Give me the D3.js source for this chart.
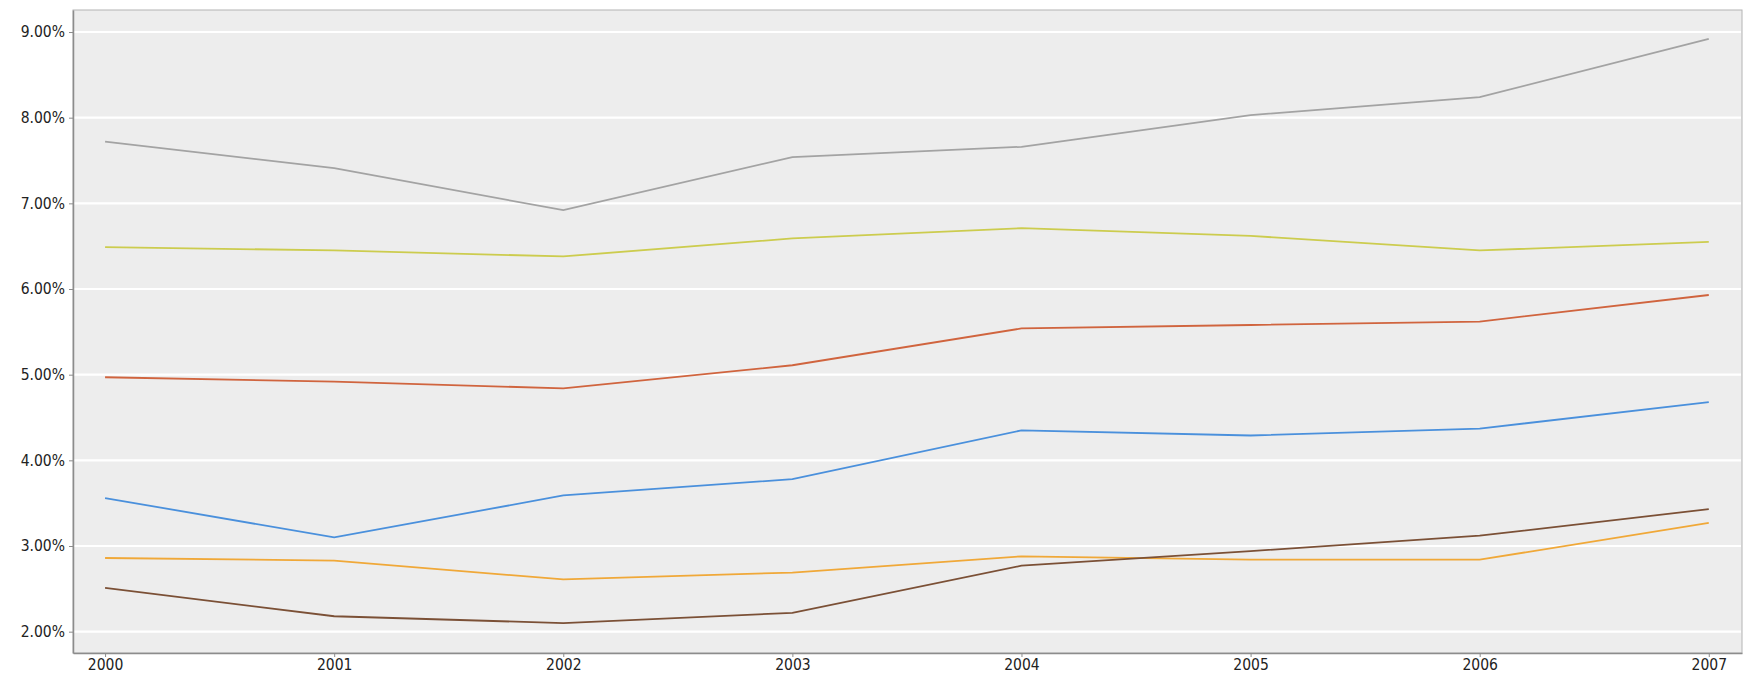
<!DOCTYPE html>
<html>
<head>
<meta charset="utf-8">
<script src="https://cdn.jsdelivr.net/npm/d3@7"></script>
<style>
  html, body { margin: 0; padding: 0; background: #fff; overflow: hidden; }
  svg { display: block; }
  text { font-family: "DejaVu Sans Condensed", "DejaVu Sans", sans-serif; }
</style>
</head>
<body>
<svg id="canvas"></svg>
<script>
const years = [2000, 2001, 2002, 2003, 2004, 2005, 2006, 2007];
const yTicks = [2, 3, 4, 5, 6, 7, 8, 9];

const greySeries   = [7.72, 7.41, 6.92, 7.54, 7.66, 8.03, 8.24, 8.92];
const yellowSeries = [6.49, 6.45, 6.38, 6.59, 6.71, 6.62, 6.45, 6.55];
const redSeries    = [4.97, 4.92, 4.84, 5.11, 5.54, 5.58, 5.62, 5.93];
const blueSeries   = [3.56, 3.10, 3.59, 3.78, 4.35, 4.29, 4.37, 4.68];
const orangeSeries = [2.86, 2.83, 2.61, 2.69, 2.88, 2.84, 2.84, 3.27];
const brownSeries  = [2.51, 2.18, 2.10, 2.22, 2.77, 2.94, 3.12, 3.43];

const series = [
    {name: "grey", values: greySeries, color: "#a3a3a3"},
    {name: "yellow", values: yellowSeries, color: "#cccc4e"},
    {name: "red", values: redSeries, color: "#d0643e"},
    {name: "blue", values: blueSeries, color: "#4a90dc"},
    {name: "orange", values: orangeSeries, color: "#f0a838"},
    {name: "brown", values: brownSeries, color: "#7b5036"}
];

const width = 1745;
const height = 681;
const margin = {top: 10, right: 3, bottom: 28, left: 73};
const innerWidth = width - margin.left - margin.right;
const innerHeight = height - margin.top - margin.bottom;

const svg = d3.select("#canvas").attr("width", width).attr("height", height);
const mainGroup = svg.append("g").attr("transform", `translate(${margin.left}, ${margin.top})`);

const xScale = d3.scaleLinear().domain([1999.86, 2007.145]).range([0, innerWidth]);
const yScale = d3.scaleLinear().domain([1.751, 9.257]).range([innerHeight, 0]);

// plot background
mainGroup.append("rect")
    .attr("width", innerWidth)
    .attr("height", innerHeight)
    .attr("fill", "#ededed")
    .attr("stroke", "#b4b4b4")
    .attr("stroke-width", 1);

// gridlines
mainGroup.append("g").selectAll("line")
    .data(yTicks)
    .join("line")
    .attr("x1", 1)
    .attr("x2", innerWidth - 1)
    .attr("y1", d => yScale(d))
    .attr("y2", d => yScale(d))
    .attr("stroke", "#ffffff")
    .attr("stroke-width", 2.2);

// lines
const line = d3.line()
    .x((d, i) => xScale(years[i]))
    .y(d => yScale(d));

mainGroup.append("g").selectAll("path")
    .data(series)
    .join("path")
    .attr("d", d => line(d.values))
    .attr("fill", "none")
    .attr("stroke", d => d.color)
    .attr("stroke-width", 1.8);

// axes
const yAxis = d3.axisLeft(yScale)
    .tickValues(yTicks)
    .tickSizeInner(4)
    .tickSizeOuter(0)
    .tickPadding(4)
    .tickFormat(d => d3.format(".2f")(d) + "%");

const xAxis = d3.axisBottom(xScale)
    .tickValues(years)
    .tickSizeInner(4)
    .tickSizeOuter(0)
    .tickPadding(3)
    .tickFormat(d3.format("d"));

const yGroup = svg.append("g")
    .attr("transform", `translate(${margin.left}, ${margin.top})`)
    .call(yAxis);
const xGroup = svg.append("g")
    .attr("transform", `translate(${margin.left}, ${margin.top + innerHeight})`)
    .call(xAxis);

[xGroup, yGroup].forEach(g => {
    g.select(".domain").attr("stroke", "#8c8c8c").attr("stroke-width", 1.5);
    g.selectAll(".tick line").attr("stroke", "#8c8c8c");
    g.selectAll(".tick text")
        .attr("fill", "#222")
        .style("font-size", "15.5px")
        .style("font-family", "'DejaVu Sans Condensed', 'DejaVu Sans', sans-serif");
});
xGroup.selectAll(".tick text").attr("dy", "0.66em");
</script>
</body>
</html>
